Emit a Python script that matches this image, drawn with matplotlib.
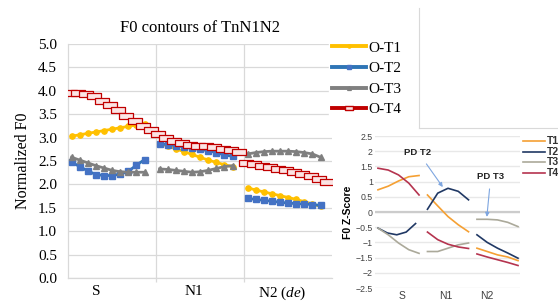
import numpy as np
import matplotlib.pyplot as plt
from matplotlib.path import Path
from matplotlib.lines import Line2D

plt.rcParams['font.family'] = ['Liberation Serif', 'DejaVu Serif']
plt.rcParams['mathtext.fontset'] = 'custom'
plt.rcParams['mathtext.rm'] = 'Liberation Serif'
plt.rcParams['mathtext.it'] = 'Liberation Serif:italic'

# main chart data (normalized F0), one list per syllable
segments = ['S', 'N1', 'N2 ($\\mathit{de}$)']
o_t1 = [[3.03, 3.06, 3.09, 3.12, 3.15, 3.18, 3.21, 3.24, 3.27, 3.28],
        [2.87, 2.82, 2.76, 2.70, 2.64, 2.58, 2.52, 2.47, 2.42, 2.38],
        [1.93, 1.88, 1.84, 1.80, 1.76, 1.72, 1.68, 1.63, 1.58, 1.53]]
o_t2 = [[2.48, 2.38, 2.29, 2.21, 2.19, 2.19, 2.22, 2.28, 2.41, 2.53],
        [2.87, 2.85, 2.83, 2.80, 2.77, 2.75, 2.72, 2.68, 2.63, 2.60],
        [1.70, 1.68, 1.66, 1.64, 1.62, 1.60, 1.59, 1.58, 1.57, 1.55]]
o_t3 = [[2.58, 2.52, 2.46, 2.40, 2.35, 2.30, 2.27, 2.26, 2.26, 2.26],
        [2.33, 2.32, 2.30, 2.28, 2.26, 2.27, 2.30, 2.34, 2.38, 2.40],
        [2.65, 2.68, 2.70, 2.71, 2.71, 2.71, 2.70, 2.68, 2.65, 2.58]]
o_t4 = [[3.95, 3.95, 3.93, 3.88, 3.79, 3.69, 3.58, 3.46, 3.35, 3.24, 3.16],
        [3.08, 3.00, 2.93, 2.88, 2.85, 2.83, 2.81, 2.79, 2.76, 2.73, 2.70],
        [2.45, 2.43, 2.40, 2.37, 2.33, 2.30, 2.27, 2.23, 2.18, 2.12, 2.05]]

# inset data (F0 z-score), 5 samples per syllable
inset_labels = ['S', 'N1', 'N2']
z_t1 = [[0.73, 0.85, 1.02, 1.16, 1.20], [0.56, 0.20, -0.15, -0.42, -0.65], [-1.19, -1.30, -1.41, -1.48, -1.60]]
z_t2 = [[-0.53, -0.69, -0.75, -0.66, -0.38], [0.09, 0.62, 0.78, 0.68, 0.40], [-0.75, -1.00, -1.19, -1.35, -1.52]]
z_t3 = [[-0.53, -0.75, -1.02, -1.24, -1.36], [-1.30, -1.30, -1.19, -1.08, -1.02], [-0.24, -0.24, -0.26, -0.34, -0.48]]
z_t4 = [[1.44, 1.38, 1.22, 0.95, 0.56], [-0.66, -0.91, -1.06, -1.15, -1.20], [-1.38, -1.48, -1.57, -1.66, -1.76]]

W, H = 558, 303
fig = plt.figure(figsize=(W / 100, H / 100), dpi=100)

def fx(px):
    return px / W

def fy(py):
    return 1 - py / H

ax = fig.add_axes([fx(68), fy(278), fx(332) - fx(68), fy(44) - fy(278)])

rect_marker = Path([(-1, -0.4), (1, -0.4), (1, 0.4), (-1, 0.4), (-1, -0.4)],
                   [Path.MOVETO, Path.LINETO, Path.LINETO, Path.LINETO, Path.CLOSEPOLY])

styles = [
    ('O-T1', o_t1, dict(color='#FFC000', marker='o', ms=3.8, mfc='#FFC000', mec='#FFC000'), (0.04, 0.87)),
    ('O-T2', o_t2, dict(color='#2E75B6', marker='s', ms=4.2, mfc='#4472C4', mec='#4472C4'), (0.04, 0.87)),
    ('O-T3', o_t3, dict(color='#808080', marker='^', ms=4.6, mfc='#7F7F7F', mec='#7F7F7F'), (0.04, 0.87)),
    ('O-T4', o_t4, dict(color='#C00000', marker=rect_marker, ms=9.5, mfc='#FBE4E4', mec='#C00000', mew=0.9), (0.02, 0.94)),
]

handles = []
for name, series, st, (a, b) in styles:
    for k, vals in enumerate(series):
        xs = k + np.linspace(a, b, len(vals))
        ax.plot(xs, vals, lw=2.0, zorder=3, **st)
    handles.append(Line2D([], [], lw=2.8, color=st['color'], marker=st['marker'],
                          ms=st['ms'] * 0.6, mfc=st['mfc'], mec=st['mec']))

ax.set_xlim(0, 3)
ax.set_ylim(0, 5)
ax.set_yticks(np.arange(0, 5.01, 0.5))
ax.set_yticklabels([f'{v:.1f}' for v in np.arange(0, 5.01, 0.5)], fontsize=11)
ax.yaxis.grid(True, color='#d9d9d9', lw=0.9)
ax.set_axisbelow(True)
ax.tick_params(axis='y', length=0, pad=8)
ax.set_xticks([0.32, 1.43, 2.43])
ax.set_xticklabels(segments, fontsize=11)
ax.tick_params(axis='x', length=0, pad=5)
ax.vlines([1, 2], -0.08, 5, color='#d9d9d9', lw=0.9, clip_on=False, zorder=1)
for s in ['top', 'right']:
    ax.spines[s].set_visible(False)
for s in ['left', 'bottom']:
    ax.spines[s].set_color('#d9d9d9')
    ax.spines[s].set_linewidth(0.9)
ax.set_ylabel('Normalized F0', fontsize=11.5, labelpad=5)
ax.set_title('F0 contours of TnN1N2', fontsize=12, pad=9)

leg = fig.legend(handles, [s[0] for s in styles], loc='upper left',
                 bbox_to_anchor=(fx(329), fy(38)), frameon=True, fontsize=11,
                 handlelength=2.2, handletextpad=0.15, labelspacing=0.45,
                 borderpad=0.2, borderaxespad=0)
leg.get_frame().set_edgecolor('white')
leg.get_frame().set_facecolor('white')
leg.get_frame().set_alpha(1)

# empty box outline at top right
fig.add_artist(Line2D([fx(419), fx(419)], [fy(8), fy(128)], color='#d9d9d9', lw=0.8))
fig.add_artist(Line2D([fx(419), fx(558)], [fy(128), fy(128)], color='#d9d9d9', lw=0.8))

# inset z-score chart
sans = ['Liberation Sans', 'DejaVu Sans']
ins = fig.add_axes([fx(375), fy(288), fx(520) - fx(375), fy(136) - fy(288)])
inset_colors = ['#F5A033', '#203864', '#ABA99A', '#B5344F']
for vals_set, col, lab in zip([z_t1, z_t2, z_t3, z_t4], inset_colors, ['T1', 'T2', 'T3', 'T4']):
    for k, vals in enumerate(vals_set):
        end = 0.83 if not (lab == 'T2' and k == 0) else 0.76
        xs = k + np.linspace(0, end, len(vals))
        ins.plot(xs, vals, color=col, lw=1.2, zorder=3)
ins.set_xlim(-0.06, 2.87)
ins.set_ylim(-2.5, 2.5)
yt = np.arange(-2.5, 2.51, 0.5)
ins.set_yticks(yt)
ins.set_yticklabels([f'{v:g}'.replace('-', '\u2212') for v in yt], fontsize=6.3,
                    family=sans, color='#404040')
ins.set_xticks([0.48, 1.37, 2.2])
ins.set_xticklabels(inset_labels, fontsize=7.5, family=sans, color='#404040')
ins.tick_params(length=0, pad=1.5)
ins.tick_params(axis='x', pad=2.5)
ins.yaxis.grid(True, color='#e8e8e8', lw=1.0)
ins.axhline(0, color='#cccccc', lw=1.6, zorder=1)
ins.set_axisbelow(True)
for s in ins.spines.values():
    s.set_visible(False)
ins.patch.set_alpha(0)
ins.set_ylabel('F0 Z-Score', fontsize=7.5, family=sans, fontweight='bold', labelpad=2)

arrow_kw = dict(arrowstyle='-|>', color='#7EA6E0', lw=0.8, mutation_scale=6)
ins.annotate('PD T2', xy=(1.31, 0.82), xytext=(0.81, 1.97), fontsize=6.8, family=sans,
             fontweight='bold', color='#222222', ha='center', va='center',
             arrowprops=dict(**arrow_kw, shrinkA=4, shrinkB=0))
ins.annotate('PD T3', xy=(2.2, -0.16), xytext=(2.28, 1.18), fontsize=6.8, family=sans,
             fontweight='bold', color='#222222', ha='center', va='center',
             arrowprops=dict(**arrow_kw, shrinkA=4, shrinkB=0))

# inset legend, cut by the right edge
for i, (col, lab) in enumerate(zip(inset_colors, ['T1', 'T2', 'T3', 'T4'])):
    yy = fy(141 + i * 10.7)
    fig.add_artist(Line2D([fx(523), fx(545)], [yy, yy], color=col, lw=1.2))
    fig.text(fx(547), yy, lab, fontsize=7.5, family=sans, fontweight='bold',
             color='#333333', va='center')

fig.savefig('out.png', dpi=100)
